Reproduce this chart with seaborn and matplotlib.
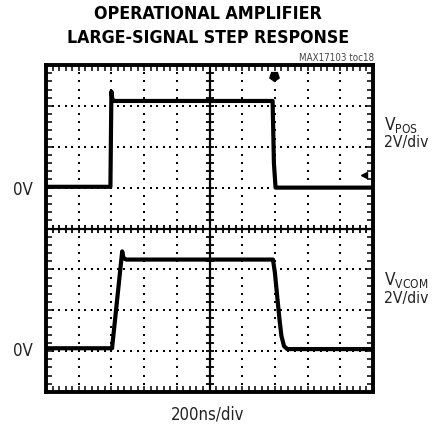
import os
import numpy as np
import pandas as pd
import matplotlib.pyplot as plt
import seaborn as sns
from matplotlib import font_manager as fm

# scope traces (x and y in divisions, y from screen centre)
pos_t = [0.0, 1.97, 2.00, 2.03, 2.08, 6.93, 6.97, 7.02, 10.0]
pos_v = [1.02, 1.02, 3.35, 3.15, 3.12, 3.12, 1.6, 1.0, 1.0]

vcom_t = [0.0, 2.02, 2.33, 2.37, 2.45, 6.94, 7.00, 7.07, 7.14, 7.20, 7.28, 7.38, 10.0]
vcom_v = [-2.93, -2.93, -0.56, -0.72, -0.76, -0.76, -1.08, -1.66, -2.22, -2.63, -2.88, -2.95, -2.95]

df = pd.concat([
    pd.DataFrame({'t': pos_t, 'v': pos_v, 'ch': 'VPOS'}),
    pd.DataFrame({'t': vcom_t, 'v': vcom_v, 'ch': 'VVCOM'}),
])

sns.set_style('white')

# look for a narrow sans (the reference uses a condensed Helvetica)
files = {os.path.basename(f): f for f in fm.findSystemFonts()}
files.update({os.path.basename(f.fname): f.fname for f in fm.fontManager.ttflist})


def find(cands):
    for c in cands:
        if c in files:
            return fm.FontProperties(fname=files[c])
    return None


reg = find(['LiberationSansNarrow-Regular.ttf', 'DejaVuSansCondensed.ttf',
            'RobotoCondensed-Regular.ttf', 'Roboto-Regular.ttf'])
bold = find(['LiberationSansNarrow-Bold.ttf', 'DejaVuSansCondensed-Bold.ttf',
             'RobotoCondensed-Bold.ttf', 'Roboto-Bold.ttf'])
if reg is None:
    reg = fm.FontProperties(family='DejaVu Sans')
if bold is None:
    bold = fm.FontProperties(family='DejaVu Sans', weight='bold')
plt.rcParams['font.family'] = [reg.get_name(), 'DejaVu Sans']
plt.rcParams['mathtext.fontset'] = 'custom'
plt.rcParams['mathtext.rm'] = reg.get_name()

W, H = 432, 431
fig = plt.figure(figsize=(W / 100, H / 100), dpi=100)
ax = fig.add_axes([46 / W, 1 - 393 / H, 327 / W, 327 / H])

# dotted graticule (dots every 0.2 div)
ys = np.arange(-4, 4.001, 0.2)
xs = np.arange(0, 10.001, 0.2)
for gx in [1, 2, 3, 4, 6, 7, 8, 9]:
    ax.plot(np.full(len(ys), gx), ys, 's', ms=1.7, mew=0, color='k')
for gy in [-3, -2, -1, 1, 2, 3]:
    ax.plot(xs, np.full(len(xs), gy), 's', ms=1.7, mew=0, color='k')

# centre cross with small ticks
ax.axvline(5, color='k', lw=1.6)
ax.axhline(0, color='k', lw=1.6)
ax.plot(np.full(len(ys), 5), ys, '_', ms=6, mew=1.3, color='k')
ax.plot(xs, np.full(len(xs), 0), '|', ms=6, mew=1.3, color='k')

# traces
sns.lineplot(data=df, x='t', y='v', units='ch', estimator=None, sort=False,
             color='k', lw=3.0, legend=False, ax=ax)

# trigger / level markers
ax.plot(6.96, 3.72, marker=(5, 0, 180), ms=7, color='k')
ax.plot(9.72, 1.32, marker='<', ms=4, color='k')

ax.set_xlim(0, 10)
ax.set_ylim(-4, 4)
ax.set_xticks(range(11))
ax.set_yticks(range(-4, 5))
ax.set_xticks(xs, minor=True)
ax.set_yticks(ys, minor=True)
ax.tick_params(which='both', direction='in', length=4, width=1.1, color='k',
               top=True, right=True, bottom=True, left=True,
               labelbottom=False, labelleft=False)
ax.set_xlabel('')
ax.set_ylabel('')
for s in ax.spines.values():
    s.set_color('k')
    s.set_linewidth(2.8)


def px(x, y):
    return x / W, 1 - y / H


texts = []  # (text, target width in px, how hard to squeeze)


def put(x, y, s, width, size, fp, k=0.6, **kw):
    t = fig.text(*px(x, y), s, fontproperties=fp, **kw)
    t.set_fontsize(size)
    texts.append((t, width, k))


put(208, 14, 'OPERATIONAL AMPLIFIER', 217, 16, bold, k=0.8, ha='center', va='center', color='k')
put(208, 38, 'LARGE-SIGNAL STEP RESPONSE', 268, 16, bold, k=0.8, ha='center', va='center', color='k')
put(374, 58, 'MAX17103 toc18', 71, 7.5, reg, ha='right', va='center', color='#444444')

put(33, 190, '0V', 18, 13, reg, k=0.4, ha='right', va='center', color='#222222')
put(33, 351, '0V', 18, 13, reg, k=0.4, ha='right', va='center', color='#222222')

put(384, 125, r'V$_{\mathregular{POS}}$', 32, 13, reg, k=0.5, ha='left', va='center', color='#222222')
put(384, 143, '2V/div', 34, 13, reg, k=0.35, ha='left', va='center', color='#222222')
put(384, 280, r'V$_{\mathregular{VCOM}}$', 42, 13, reg, k=0.5, ha='left', va='center', color='#222222')
put(384, 298, '2V/div', 34, 13, reg, k=0.35, ha='left', va='center', color='#222222')

put(208, 415, '200ns/div', 65, 13, reg, k=0.4, ha='center', va='center', color='#222222')

# squeeze texts that come out wider than in the reference
r = fig.canvas.get_renderer()
for t, w, k in texts:
    got = t.get_window_extent(r).width
    if got > w:
        t.set_fontsize(t.get_fontsize() * (w / got) ** k)

fig.savefig('out.png', dpi=100)
